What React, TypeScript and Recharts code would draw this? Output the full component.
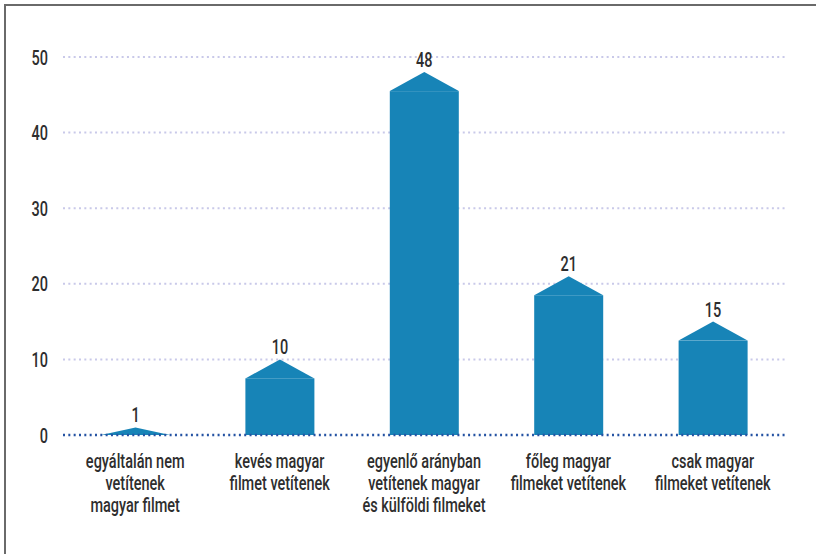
import React from "react";
import { BarChart, Bar, XAxis, YAxis, CartesianGrid, ReferenceLine, LabelList } from "recharts";

const categories = [
  "egyáltalán nem\nvetítenek\nmagyar filmet",
  "kevés magyar\nfilmet vetítenek",
  "egyenlő arányban\nvetítenek magyar\nés külföldi filmeket",
  "főleg magyar\nfilmeket vetítenek",
  "csak magyar\nfilmeket vetítenek",
];
const values = [1, 10, 48, 21, 15];
const yTicks = [0, 10, 20, 30, 40, 50];

const data = categories.map((c, i) => ({ category: c, value: values[i] }));

const FONT = "Roboto, 'DejaVu Sans Condensed', sans-serif";
const TEXT_COLOR = "#2e2e2e";
const SX = 0.69;
const FS = 21;
const BAR_COLOR = "#1784b7";

const HouseBar = (props: any) => {
  const { x, y, width, height, fill } = props;
  if (height == null || height <= 0) return null;
  const roof = Math.min(19, height);
  const cx = x + width / 2;
  const shoulder = y + roof;
  return (
    <g>
      {height - roof > 0 && <rect x={x} y={shoulder} width={width} height={height - roof} fill={fill} />}
      <path d={`M${x},${shoulder} L${cx},${y} L${x + width},${shoulder} Z`} fill={fill} />
    </g>
  );
};

const XTick = (props: any) => {
  const { x, y, payload } = props;
  const lines = String(payload.value).split("\n");
  return (
    <g transform={`translate(${x},${y + 33}) scale(${SX},1)`}>
      <text x={0} y={0} textAnchor="middle" fontFamily={FONT} fontWeight={500} fontSize={FS} fill={TEXT_COLOR}>
        {lines.map((l, i) => (
          <tspan key={i} x={0} dy={i === 0 ? 0 : 22}>
            {l}
          </tspan>
        ))}
      </text>
    </g>
  );
};

const YTick = (props: any) => {
  const { x, y, payload } = props;
  return (
    <g transform={`translate(${x},${y + 7.5}) scale(${SX},1)`}>
      <text x={0} y={0} textAnchor="end" fontFamily={FONT} fontWeight={500} fontSize={FS} fill={TEXT_COLOR}>
        {payload.value}
      </text>
    </g>
  );
};

const ValueLabel = (props: any) => {
  const { x, y, width, value } = props;
  return (
    <g transform={`translate(${x + width / 2},${y - 5}) scale(${SX},1)`}>
      <text x={0} y={0} textAnchor="middle" fontFamily={FONT} fontWeight={500} fontSize={FS} fill={TEXT_COLOR}>
        {value}
      </text>
    </g>
  );
};

export default function App() {
  return (
    <div style={{ position: "absolute", left: 0, top: 0, width: 816, height: 554, overflow: "hidden", background: "#fff" }}>
      <div
        style={{
          position: "absolute",
          left: 4,
          top: 4,
          width: 900,
          height: 700,
          borderLeft: "2px solid #6a6a6a",
          borderTop: "2px solid #6a6a6a",
        }}
      />
      <div style={{ position: "absolute", left: 0, top: 0 }}>
        <BarChart width={816} height={554} data={data} margin={{ top: 57, right: 31, bottom: 19, left: 0 }}>
          <CartesianGrid
            vertical={false}
            horizontalValues={[10, 20, 30, 40, 50]}
            stroke="#c9c9e9"
            strokeWidth={2}
            strokeDasharray="2 3.33"
          />
          <XAxis
            dataKey="category"
            axisLine={false}
            tickLine={false}
            tickSize={0}
            tickMargin={0}
            height={100}
            interval={0}
            tick={<XTick />}
          />
          <YAxis
            domain={[0, 50]}
            ticks={yTicks}
            axisLine={false}
            tickLine={false}
            tickSize={0}
            tickMargin={15}
            width={63}
            tick={<YTick />}
          />
          <Bar dataKey="value" fill={BAR_COLOR} barSize={69} shape={<HouseBar />} isAnimationActive={false}>
            <LabelList dataKey="value" content={<ValueLabel />} />
          </Bar>
          <ReferenceLine y={0} stroke="#2553a3" strokeWidth={2.5} strokeDasharray="2 3.33" />
        </BarChart>
      </div>
    </div>
  );
}
